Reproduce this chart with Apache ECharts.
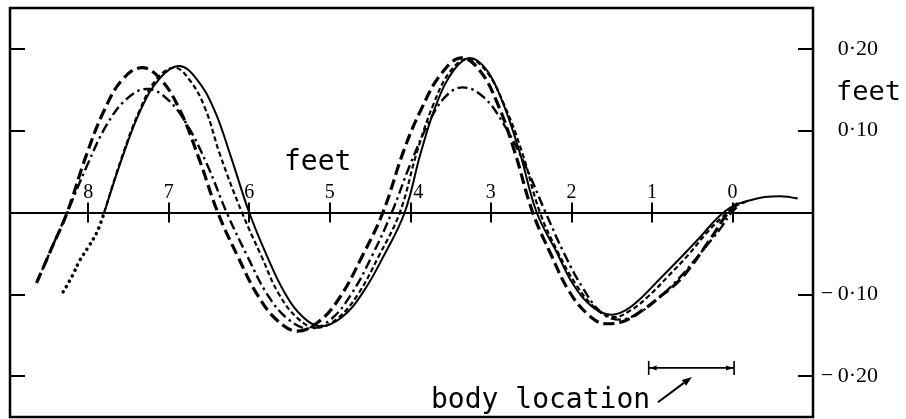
<!DOCTYPE html>
<html>
<head>
<meta charset="utf-8">
<script src="https://cdn.jsdelivr.net/npm/echarts@6/dist/echarts.min.js"></script>
<style>
html, body { margin: 0; padding: 0; background: #fff; }
#chart { width: 906px; height: 419px; }
</style>
</head>
<body>
<div id="chart"></div>
<script>
// Distance along the track (feet) and lateral displacement (feet) of each traced wave

// solid trace
const solidX = [7.80, 7.57, 7.34, 7.11, 6.87, 6.66, 6.44, 6.23, 6.00, 5.78, 5.56, 5.33, 5.11, 4.85, 4.59, 4.33, 4.07,
  3.87, 3.67, 3.46, 3.26, 3.05, 2.85, 2.64, 2.43, 2.19, 1.97, 1.73, 1.50, 1.32, 1.15, 0.90, 0.65, 0.40, 0.18,
  -0.01, -0.22, -0.40, -0.59, -0.81];
const solidY = [0, 0.069, 0.127, 0.164, 0.179, 0.164, 0.127, 0.069, 0, -0.053, -0.098, -0.128, -0.139, -0.128, -0.098, -0.053, 0,
  0.073, 0.134, 0.174, 0.189, 0.174, 0.134, 0.073, 0, -0.047, -0.089, -0.116, -0.125, -0.119, -0.106, -0.081, -0.056, -0.030, -0.006,
  0.008, 0.015, 0.019, 0.020, 0.017];

// short-dashed trace
const shortDashX = [7.80, 7.58, 7.36, 7.15, 6.93, 6.74, 6.55, 6.36, 6.09, 5.85, 5.63, 5.39, 5.17, 4.91, 4.65, 4.39, 4.13,
  3.92, 3.71, 3.50, 3.28, 3.06, 2.84, 2.61, 2.39, 2.17, 1.93, 1.69, 1.47, 1.27, 1.05, 0.80, 0.55, 0.33, 0.13, -0.04, -0.17];
const shortDashY = [0, 0.068, 0.125, 0.163, 0.177, 0.162, 0.128, 0.070, 0, -0.053, -0.100, -0.130, -0.141, -0.130, -0.100, -0.053, 0,
  0.073, 0.133, 0.173, 0.188, 0.173, 0.133, 0.073, 0, -0.048, -0.090, -0.118, -0.128, -0.120, -0.103, -0.078, -0.052, -0.026, -0.006, 0.008, 0.013];

// long-dashed trace
const longDashX = [8.64, 8.45, 8.26, 8.03, 7.80, 7.57, 7.33, 7.10, 6.86, 6.62, 6.39, 6.14, 5.89, 5.64, 5.40, 5.13, 4.87, 4.60, 4.34,
  4.08, 3.87, 3.62, 3.36, 3.14, 2.92, 2.70, 2.48, 2.25, 2.03, 1.79, 1.57, 1.35, 1.11, 0.90, 0.69, 0.53, 0.37, 0.23, 0.12, -0.01, -0.09];
const longDashY = [-0.086, -0.043, 0, 0.068, 0.125, 0.163, 0.177, 0.163, 0.125, 0.065, 0, -0.054, -0.102, -0.133, -0.145, -0.133, -0.103, -0.054, 0,
  0.076, 0.125, 0.169, 0.189, 0.174, 0.134, 0.073, 0, -0.052, -0.096, -0.125, -0.136, -0.133, -0.119, -0.103, -0.086, -0.068, -0.046, -0.026, -0.009, 0.007, 0.012];

// dash-dot trace
const dashDotX = [8.64, 8.45, 8.26, 8.01, 7.77, 7.52, 7.27, 7.02, 6.77, 6.52, 6.28, 6.02, 5.77, 5.51, 5.25, 4.99, 4.74, 4.48, 4.23,
  4.00, 3.78, 3.57, 3.35, 3.09, 2.84, 2.58, 2.32, 2.09, 1.86, 1.63, 1.40, 1.15, 0.90, 0.65, 0.40, 0.25, 0.13, 0.03, -0.07];
const dashDotY = [-0.086, -0.043, 0, 0.058, 0.107, 0.139, 0.151, 0.139, 0.107, 0.058, 0, -0.054, -0.101, -0.131, -0.142, -0.131, -0.101, -0.054, 0,
  0.059, 0.108, 0.141, 0.153, 0.141, 0.108, 0.059, 0, -0.050, -0.092, -0.122, -0.131, -0.122, -0.103, -0.079, -0.050, -0.032, -0.017, -0.002, 0.008];

// dotted lead-in at the left end
const dottedX = [8.31, 8.20, 8.10, 7.99, 7.89, 7.80];
const dottedY = [-0.097, -0.078, -0.058, -0.041, -0.024, 0];

// axis ticks and labels
const xTickValues = [0, 1, 2, 3, 4, 5, 6, 7, 8];
const yTickValues = [-0.2, -0.1, 0.1, 0.2];

// body location bracket and its pointer (feet)
const bodyStart = 1.04;
const bodyEnd = -0.02;
const bodyLevel = -0.19;
const pointerFrom = [0.925, -0.232];
const pointerTo = [0.503, -0.201];

const pairs = (xs, ys) => xs.map((x, i) => [x, ys[i]]);

const INK = '#000';
const SERIF = '"Liberation Serif", "DejaVu Serif", serif';
const MONO = '"DejaVu Sans Mono", "Liberation Mono", monospace';

const GRID = { left: 10, right: 93, top: 8, bottom: 2 };
const W = 906, H = 419;

function traceSeries(name, xs, ys, width, type, cap) {
  return {
    name, type: 'line', data: pairs(xs, ys), smooth: 0.4,
    symbol: 'none', silent: true, clip: true,
    lineStyle: { color: INK, width, type, cap: cap || 'butt' }
  };
}

function renderBracket(params, api) {
  const a = api.coord([bodyStart, bodyLevel]);
  const b = api.coord([bodyEnd, bodyLevel]);
  const p0 = api.coord(pointerFrom);
  const p1 = api.coord(pointerTo);
  const stroke = { stroke: INK, lineWidth: 1.6 };
  const dx = p1[0] - p0[0], dy = p1[1] - p0[1];
  const len = Math.hypot(dx, dy), ux = dx / len, uy = dy / len;
  const head = 10, half = 3.5;
  const base = [p1[0] - ux * head, p1[1] - uy * head];
  return {
    type: 'group',
    children: [
      { type: 'line', shape: { x1: a[0], y1: a[1], x2: b[0], y2: b[1] }, style: stroke },
      { type: 'line', shape: { x1: a[0], y1: a[1] - 7, x2: a[0], y2: a[1] + 7 }, style: stroke },
      { type: 'line', shape: { x1: b[0], y1: b[1] - 7, x2: b[0], y2: b[1] + 7 }, style: stroke },
      { type: 'polygon', shape: { points: [[a[0] + 1, a[1]], [a[0] + 8, a[1] - 2.5], [a[0] + 8, a[1] + 2.5]] }, style: { fill: INK } },
      { type: 'polygon', shape: { points: [[b[0] - 1, b[1]], [b[0] - 8, b[1] - 2.5], [b[0] - 8, b[1] + 2.5]] }, style: { fill: INK } },
      { type: 'line', shape: { x1: p0[0], y1: p0[1], x2: base[0], y2: base[1] }, style: { stroke: INK, lineWidth: 2 } },
      { type: 'polygon', shape: { points: [p1, [base[0] - uy * half, base[1] + ux * half], [base[0] + uy * half, base[1] - ux * half]] }, style: { fill: INK } }
    ]
  };
}

const chart = echarts.init(document.getElementById('chart'), null, { renderer: 'canvas' });

const xCommon = {
  type: 'value', min: -1, max: 8.97, interval: 1, inverse: true,
  splitLine: { show: false }
};
const yCommon = {
  type: 'value', min: -0.25, max: 0.25, interval: 0.05,
  axisLine: { show: false, onZero: false },
  splitLine: { show: false }
};

chart.setOption({
  animation: false,
  backgroundColor: '#fff',
  grid: Object.assign({
    containLabel: false, outerBoundsMode: 'none',
    show: true, borderColor: INK, borderWidth: 2.5, backgroundColor: 'transparent'
  }, GRID),
  xAxis: [
    // distance scale drawn along the zero line: labels and upper half of each tick
    Object.assign({}, xCommon, {
      position: 'top', offset: 0,
      axisLine: { show: true, onZero: false, lineStyle: { color: INK, width: 2 } },
      axisTick: { show: true, length: 10, customValues: xTickValues, lineStyle: { color: INK, width: 2 } },
      axisLabel: {
        show: true, customValues: xTickValues, margin: 10,
        color: INK, fontFamily: SERIF, fontSize: 20,
        formatter: v => (v === 4 ? '{shift|4}' : String(v)),
        rich: { shift: { padding: [0, 0, 0, 16], color: INK, fontFamily: SERIF, fontSize: 20 } }
      }
    }),
    // lower half of each tick
    Object.assign({}, xCommon, {
      position: 'bottom', offset: 0,
      axisLine: { show: true, onZero: false, lineStyle: { color: INK, width: 2 } },
      axisTick: { show: true, length: 10, customValues: xTickValues, lineStyle: { color: INK, width: 2 } },
      axisLabel: { show: false }
    })
  ],
  yAxis: [
    Object.assign({}, yCommon, {
      position: 'left',
      axisTick: { show: true, inside: true, length: 15, customValues: yTickValues, lineStyle: { color: INK, width: 2 } },
      axisLabel: { show: false }
    }),
    Object.assign({}, yCommon, {
      position: 'right',
      axisTick: { show: true, inside: true, length: 15, customValues: yTickValues, lineStyle: { color: INK, width: 2 } },
      axisLabel: {
        show: true, customValues: yTickValues, margin: 65, align: 'right',
        color: INK, fontFamily: SERIF, fontSize: 22,
        formatter: v => (v < 0 ? '\u2212\u2009' : '') + Math.abs(v).toFixed(2).replace('.', '\u00b7')
      }
    })
  ],
  series: [
    traceSeries('solid', solidX, solidY, 2, 'solid'),
    traceSeries('short dash', shortDashX, shortDashY, 2.2, [5, 3]),
    traceSeries('long dash', longDashX, longDashY, 3.2, [11, 5]),
    traceSeries('dash dot', dashDotX, dashDotY, 2.4, [10, 4, 2.5, 4]),
    traceSeries('dotted', dottedX, dottedY, 3.5, [0.1, 6], 'round'),
    {
      name: 'body location', type: 'custom', silent: true,
      data: [[bodyStart, bodyLevel]],
      renderItem: renderBracket
    }
  ],
  graphic: [
    { type: 'text', x: 284, y: 163, silent: true,
      style: { text: 'feet', fill: INK, fontFamily: MONO, fontSize: 28, verticalAlign: 'middle' } },
    { type: 'text', x: 836, y: 93, silent: true,
      style: { text: 'feet', fill: INK, fontFamily: MONO, fontSize: 27, verticalAlign: 'middle' } },
    { type: 'text', x: 431, y: 401, silent: true,
      style: { text: 'body location', fill: INK, fontFamily: MONO, fontSize: 28, verticalAlign: 'middle' } }
  ]
});

// Slide both x axes onto the y = 0 line of the value scale
const zeroY = chart.convertToPixel({ yAxisIndex: 0 }, 0);
chart.setOption({
  xAxis: [
    { offset: -(zeroY - GRID.top) },
    { offset: -((H - GRID.bottom) - zeroY) }
  ]
});
</script>
</body>
</html>
